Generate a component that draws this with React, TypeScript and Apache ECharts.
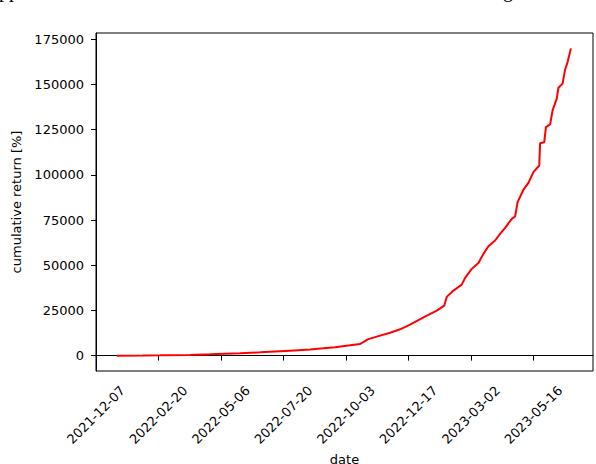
import React, { useEffect, useRef } from "react";
import * as echarts from "echarts";

const dates: string[] = [
  "2022-01-01", "2022-02-01", "2022-02-22", "2022-03-30", "2022-04-23", "2022-05-29",
  "2022-06-22", "2022-07-28", "2022-08-21", "2022-09-06", "2022-09-20", "2022-10-08",
  "2022-10-20", "2022-10-24", "2022-10-29", "2022-11-13", "2022-11-25", "2022-12-07",
  "2022-12-19", "2023-01-04", "2023-01-20", "2023-01-29", "2023-02-01", "2023-02-09",
  "2023-02-19", "2023-02-23", "2023-03-03", "2023-03-11", "2023-03-17", "2023-03-23",
  "2023-03-31", "2023-04-06", "2023-04-12", "2023-04-20", "2023-04-24", "2023-04-27",
  "2023-05-04", "2023-05-10", "2023-05-16", "2023-05-23", "2023-05-24", "2023-05-29",
  "2023-05-31", "2023-06-05", "2023-06-08", "2023-06-13", "2023-06-15", "2023-06-20",
  "2023-06-23", "2023-06-26", "2023-06-30",
];

const cumulativeReturn: number[] = [
  0, 80, 170, 390, 700, 1290,
  1830, 2770, 3400, 4060, 4700, 5700,
  6500, 7500, 9000, 11080, 12700, 14570,
  17170, 21200, 24900, 27700, 32500, 36000,
  39300, 43000, 48000, 51300, 56300, 60500,
  63700, 67400, 70700, 75700, 77000, 84900,
  91800, 95600, 101500, 105200, 117500, 118100,
  126400, 127900, 135700, 142200, 148200, 150500,
  158200, 162400, 170000,
];

const xTickLabels: string[] = [
  "2021-12-07", "2022-02-20", "2022-05-06", "2022-07-20",
  "2022-10-03", "2022-12-17", "2023-03-02", "2023-05-16",
];

const yTicks: number[] = [0, 25000, 50000, 75000, 100000, 125000, 150000, 175000];

const DAY = 86400000;
const toMs = (s: string) => {
  const [y, m, d] = s.split("-").map(Number);
  return Date.UTC(y, m - 1, d);
};
const fmt = (v: number) => new Date(v).toISOString().slice(0, 10);

export default function App() {
  const ref = useRef<HTMLDivElement>(null);
  useEffect(() => {
    if (!ref.current) return;
    const chart = echarts.init(ref.current, null, { renderer: "svg" });
    const xTicks = xTickLabels.map(toMs);
    const xMin = toMs("2021-12-07");
    const xMax = xMin + 596.5 * DAY;
    const font = "DejaVu Sans";
    chart.setOption({
      animation: false,
      backgroundColor: "#ffffff",
      textStyle: { fontFamily: font },
      graphic: [
        { type: "text", left: -1, top: -20, style: { text: "pp", font: "20px 'Liberation Serif', 'DejaVu Serif', serif", fill: "#000" } },
        { type: "text", left: 503, top: -20, style: { text: "g", font: "20px 'Liberation Serif', 'DejaVu Serif', serif", fill: "#000" } },
      ],
      grid: {
        left: 96, right: 3, top: 33, bottom: 93,
        show: true, borderColor: "#000", borderWidth: 1,
        containLabel: false, outerBoundsMode: "none",
      },
      xAxis: {
        type: "value",
        min: xMin,
        max: xMax,
        name: "date",
        nameLocation: "middle",
        nameGap: 77,
        nameTextStyle: { fontSize: 13, color: "#000", fontFamily: font },
        axisLine: { show: true, lineStyle: { color: "#000", width: 1 } },
        axisTick: { show: true, length: 5, lineStyle: { color: "#000" }, customValues: xTicks },
        axisLabel: {
          customValues: xTicks,
          rotate: 45,
          align: "center",
          verticalAlign: "middle",
          margin: 44,
          fontSize: 13,
          color: "#000",
          fontFamily: font,
          formatter: (v: number) => fmt(v),
        },
        splitLine: { show: false },
      },
      yAxis: {
        type: "value",
        min: -8500,
        max: 178500,
        name: "cumulative return [%]",
        nameLocation: "middle",
        nameGap: 65,
        nameRotate: 90,
        nameTextStyle: { fontSize: 13, color: "#000", fontFamily: font },
        axisLine: { show: true, lineStyle: { color: "#000", width: 1 } },
        axisTick: { show: true, length: 5, lineStyle: { color: "#000" }, customValues: yTicks },
        axisLabel: {
          customValues: yTicks,
          margin: 12,
          fontSize: 13,
          color: "#000",
          fontFamily: font,
          formatter: (v: number) => String(v),
        },
        splitLine: { show: false },
      },
      series: [
        {
          type: "line",
          data: dates.map((d, i) => [toMs(d), cumulativeReturn[i]]),
          showSymbol: false,
          symbol: "none",
          lineStyle: { color: "#ff0000", width: 2 },
          itemStyle: { color: "#ff0000" },
        },
      ],
    });
    return () => chart.dispose();
  }, []);
  return (
    <div
      ref={ref}
      style={{ position: "fixed", left: 0, top: 0, width: 596, height: 464 }}
    />
  );
}
